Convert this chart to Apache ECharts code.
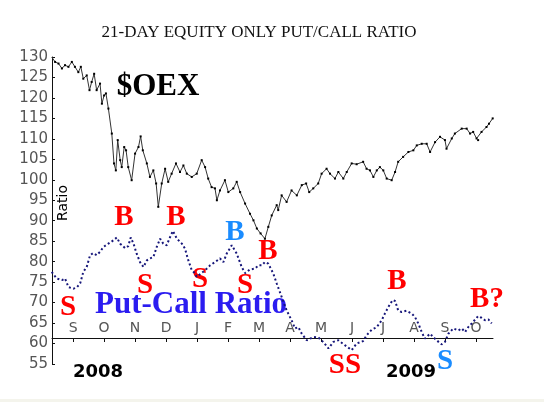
<!DOCTYPE html>
<html>
<head>
<meta charset="utf-8">
<script src="https://cdn.jsdelivr.net/npm/echarts@6/dist/echarts.min.js"></script>
<style>
html,body{margin:0;padding:0;background:#fff;}
#chart{width:544px;height:402px;}
</style>
</head>
<body>
<div id="chart"></div>
<script>
// x values are months counted from the "S" (Sep 2008) tick
const monthLabels = ['S','O','N','D','J','F','M','A','M','J','J','A','S','O'];
const monthTicks = [0,1,2,3,4,5,6,7,8,9,10,11,12,13];
const yTicks = [55,60,65,70,75,80,85,90,95,100,105,110,115,120,125,130];
const yearLabels = ['2008','2009'];

const oexX = [-0.69,-0.58,-0.47,-0.36,-0.26,-0.15,-0.04,0.06,0.17,0.25,0.33,0.44,0.53,0.60,0.68,0.76,0.87,0.93,1.00,1.06,1.14,1.25,1.32,1.38,1.44,1.52,1.57,1.65,1.71,1.78,1.89,2.0,2.11,2.18,2.25,2.38,2.48,2.59,2.68,2.75,2.86,2.97,3.07,3.18,3.32,3.45,3.56,3.67,3.83,3.99,4.15,4.26,4.36,4.47,4.58,4.64,4.74,4.90,5.01,5.17,5.28,5.39,5.55,5.71,5.82,5.93,6.05,6.19,6.30,6.41,6.57,6.62,6.73,6.89,7.05,7.22,7.38,7.52,7.62,7.75,7.91,8.02,8.18,8.29,8.45,8.56,8.72,8.83,8.99,9.15,9.36,9.47,9.58,9.69,9.80,9.90,10.01,10.12,10.28,10.39,10.49,10.65,10.82,10.98,11.09,11.25,11.41,11.52,11.68,11.84,12.0,12.05,12.22,12.32,12.54,12.70,12.81,12.91,13.02,13.07,13.18,13.34,13.42,13.54];
const oexValues = [130.0,128.8,128.4,127.2,128.0,127.6,128.8,127.6,126.3,127.6,124.7,125.5,121.9,123.9,125.9,121.9,123.5,118.6,120.6,121.1,117.4,111.3,104.0,102.3,109.7,104.8,103.1,108.0,107.2,103.1,99.9,106.4,108.0,110.6,107.2,104.0,100.7,102.3,99.1,93.4,99.1,102.7,99.5,101.5,104.0,101.9,103.5,101.5,100.7,101.5,104.8,103.1,100.3,98.2,97.9,95.0,97.4,99.9,97.0,97.9,99.5,97.0,94.2,91.7,90.1,88.1,86.9,85.6,88.5,91.3,93.8,92.6,96.2,94.6,97.4,96.2,98.7,99.1,97.0,97.9,99.1,101.5,102.7,101.5,100.3,101.9,100.3,101.9,104.0,103.8,104.4,102.7,102.3,100.7,102.3,103.1,102.3,100.3,99.9,101.9,104.4,105.6,106.8,107.2,108.4,108.8,108.8,106.8,109.2,110.5,109.7,107.6,110.1,111.3,112.5,112.5,111.3,111.7,110.1,109.7,111.7,112.9,113.7,115.0];

const ratioX = [-0.69,-0.53,-0.36,-0.26,-0.15,0.01,0.12,0.23,0.33,0.44,0.55,0.65,0.76,0.87,0.98,1.14,1.30,1.41,1.52,1.68,1.78,1.86,1.95,2.05,2.16,2.27,2.38,2.48,2.59,2.70,2.81,2.91,3.02,3.13,3.22,3.35,3.51,3.61,3.72,3.83,3.94,3.99,4.26,4.42,4.58,4.74,4.85,4.96,5.12,5.17,5.28,5.44,5.55,5.71,5.87,5.98,6.09,6.19,6.30,6.46,6.57,6.73,6.89,7.05,7.16,7.27,7.38,7.54,7.65,7.75,7.91,8.07,8.24,8.40,8.56,8.77,8.99,9.15,9.36,9.47,9.64,9.80,9.96,10.06,10.17,10.31,10.39,10.49,10.60,10.76,10.93,11.03,11.14,11.25,11.35,11.52,11.62,11.73,11.89,12.0,12.11,12.27,12.43,12.54,12.65,12.75,12.91,13.07,13.18,13.29,13.40,13.51];
const ratioValues = [77.5,75.9,75.5,75.9,73.8,73.4,73.7,74.7,77.5,78.7,81.6,82.1,81.6,82.4,83.6,84.4,85.2,85.9,84.4,83.3,83.8,85.9,84.4,82.0,79.9,78.7,80.3,80.8,81.1,83.6,85.6,84.4,84.0,86.0,87.5,85.6,84.4,83.2,80.3,77.9,77.1,76.3,77.9,79.1,79.9,80.8,79.9,82.0,84.0,84.0,82.0,78.7,77.2,78.1,78.3,79.1,79.1,79.9,79.5,77.1,74.7,71.4,68.1,65.7,63.7,64.0,62.4,60.8,61.2,61.6,61.5,60.4,58.8,60.4,60.8,59.6,58.4,60.0,60.6,62.0,63.4,64.0,65.7,67.3,68.9,70.6,70.4,68.1,67.7,68.0,67.3,66.5,64.9,62.8,61.2,62.4,61.6,60.8,59.8,60.4,62.4,63.7,63.2,63.7,62.8,64.0,65.3,66.7,66.3,65.7,65.9,64.9];

const XMIN = -0.68, XMAX = 13.55;
const RED = '#ff0000', LBLUE = '#1a8cff';

function letter(text, x, y, color) {
  return {type:'text', x:x, y:y, silent:true, style:{text:text, fill:color,
    font:'bold 29px "Liberation Serif", "DejaVu Serif", serif', align:'center', verticalAlign:'middle'}};
}

const chart = echarts.init(document.getElementById('chart'), null, {renderer:'canvas'});
chart.setOption({
  animation:false,
  backgroundColor:'#ffffff',
  grid:[
    {left:52, top:57, width:441, height:307},
    {left:52, top:300, width:441, height:38}
  ],
  xAxis:[
    {gridIndex:0, type:'value', min:XMIN, max:XMAX, show:false},
    {gridIndex:1, type:'value', min:XMIN, max:XMAX,
      axisLine:{show:true, onZero:false, lineStyle:{color:'#111', width:1}},
      axisTick:{show:true, customValues:monthTicks, length:4, lineStyle:{color:'#111'}},
      axisLabel:{show:true, inside:true, customValues:monthTicks, margin:3,
        formatter:function(v){return monthLabels[Math.round(v)];},
        color:'#555', fontSize:14, fontFamily:'DejaVu Sans'},
      splitLine:{show:false}}
  ],
  yAxis:[
    {gridIndex:0, type:'value', min:55, max:130, interval:5,
      axisLine:{show:true, onZero:false, lineStyle:{color:'#111', width:1}},
      axisTick:{show:true, inside:true, length:3, lineStyle:{color:'#111'}},
      axisLabel:{color:'#555', fontSize:15, fontFamily:'DejaVu Sans', margin:4,
        formatter:function(v){return yTicks.indexOf(v) >= 0 ? String(v) : '';}},
      splitLine:{show:false}},
    {gridIndex:1, type:'value', show:false}
  ],
  series:[
    {name:'$OEX', type:'line', xAxisIndex:0, yAxisIndex:0,
      data:oexX.map(function(x,i){return [x, oexValues[i]];}),
      symbol:'rect', symbolSize:2, showSymbol:true,
      lineStyle:{color:'#333', width:1}, itemStyle:{color:'#000'}, z:3},
    {name:'Put-Call Ratio', type:'line', xAxisIndex:0, yAxisIndex:0,
      data:ratioX.map(function(x,i){return [x, ratioValues[i]];}),
      symbol:'none',
      lineStyle:{color:'#16167a', width:2, type:[2,2.5]}, z:2}
  ],
  graphic:[
    {type:'rect', shape:{x:0, y:399, width:544, height:3}, style:{fill:'#f4f4ec'}, silent:true},
    {type:'text', x:259, y:33, style:{text:'21-DAY EQUITY ONLY PUT/CALL RATIO', fill:'#111',
      font:'17px "Liberation Serif", "DejaVu Serif", serif', align:'center', verticalAlign:'middle'}},
    {type:'text', x:158, y:87, style:{text:'$OEX', fill:'#000',
      font:'bold 31px "Liberation Serif", "DejaVu Serif", serif', align:'center', verticalAlign:'middle'}},
    {type:'text', x:191, y:305, style:{text:'Put-Call Ratio', fill:'#2b1cf0',
      font:'bold 31px "Liberation Serif", "DejaVu Serif", serif', align:'center', verticalAlign:'middle'}},
    {type:'text', x:63, y:203, rotation:Math.PI/2, style:{text:'Ratio', fill:'#000',
      font:'14px "DejaVu Sans", sans-serif', align:'center', verticalAlign:'middle'}},
    {type:'text', x:98, y:372, style:{text:yearLabels[0], fill:'#000',
      font:'bold 18px "DejaVu Sans", sans-serif', align:'center', verticalAlign:'middle'}},
    {type:'text', x:411, y:372, style:{text:yearLabels[1], fill:'#000',
      font:'bold 18px "DejaVu Sans", sans-serif', align:'center', verticalAlign:'middle'}},
    letter('S', 68, 308, RED),
    letter('B', 124, 218, RED),
    letter('S', 145, 286, RED),
    letter('B', 176, 218, RED),
    letter('S', 200, 280, RED),
    letter('B', 235, 233, LBLUE),
    letter('S', 245, 286, RED),
    letter('B', 268, 252, RED),
    letter('SS', 345, 366, RED),
    letter('B', 397, 282, RED),
    letter('S', 445, 362, LBLUE),
    letter('B?', 487, 300, RED)
  ]
});
</script>
</body>
</html>
